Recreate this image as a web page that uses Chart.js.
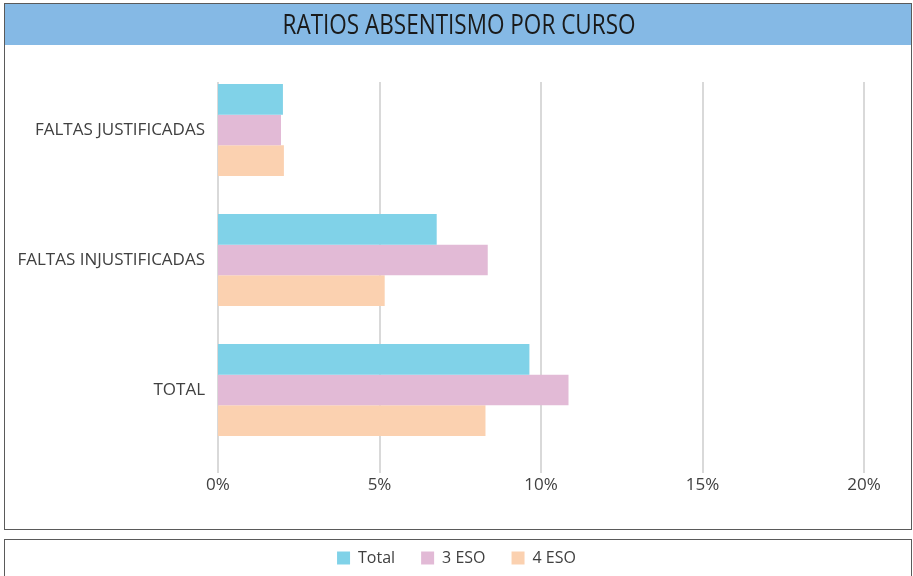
<!DOCTYPE html>
<html lang="es">
<head>
<meta charset="utf-8">
<title>Ratios absentismo por curso</title>
<script src="https://cdn.jsdelivr.net/npm/chart.js@4/dist/chart.umd.min.js"></script>
<style>
    html, body { margin: 0; padding: 0; background: #fff; }
    #contenedor { width: 913px; height: 576px; position: relative; }
</style>
</head>
<body>
<div id="contenedor"><canvas id="graficoAbsentismo"></canvas></div>
<script>
/* ============================================= */
/* DATOS DEL GRÁFICO                             */
/* ============================================= */

const titulo = 'RATIOS ABSENTISMO POR CURSO';
const categorias = ['FALTAS JUSTIFICADAS', 'FALTAS INJUSTIFICADAS', 'TOTAL'];
const valoresTotal = [2.01, 6.77, 9.64];
const valores3Eso = [1.95, 8.35, 10.85];
const valores4Eso = [2.04, 5.16, 8.28];
const ticksX = [0, 5, 10, 15, 20];

const colorTexto = '#404040';
const colorRejilla = '#d9d9d9';

// Marcos: barra azul del título, caja del gráfico y caja de la leyenda
const marcos = {
    id: 'marcos',
    beforeDraw(chart) {
        const ctx = chart.ctx;
        ctx.save();
        ctx.fillStyle = '#fff';
        ctx.fillRect(0, 0, chart.width, chart.height);
        ctx.fillStyle = '#85b9e5';
        ctx.fillRect(4, 3, 908, 42);
        ctx.strokeStyle = '#5a5a5a';
        ctx.lineWidth = 1;
        ctx.strokeRect(4.5, 3.5, 907, 526);
        ctx.strokeRect(4.5, 539.5, 907, 40);

        // El título original usa una letra estrecha: se comprime en horizontal
        ctx.font = "27px 'Open Sans'";
        ctx.fillStyle = '#1a1a1a';
        ctx.textAlign = 'center';
        ctx.textBaseline = 'middle';
        const ancho = ctx.measureText(titulo).width;
        ctx.translate(459, 26);
        ctx.scale(353 / ancho, 1);
        ctx.fillText(titulo, 0, 0);
        ctx.restore();
    }
};

// Rejilla vertical (va de 82 a 473, no ocupa toda la altura de las categorías)
const rejilla = {
    id: 'rejilla',
    beforeDatasetsDraw(chart) {
        const ctx = chart.ctx;
        const x = chart.scales.x;
        ctx.save();
        ctx.strokeStyle = colorRejilla;
        ctx.lineWidth = 2;
        ticksX.forEach(v => {
            const px = Math.round(x.getPixelForValue(v));
            ctx.beginPath();
            ctx.moveTo(px, 82);
            ctx.lineTo(px, 473);
            ctx.stroke();
        });
        ctx.restore();
    }
};

new Chart(document.getElementById('graficoAbsentismo'), {
    type: 'bar',
    data: {
        labels: categorias,
        datasets: [
            { label: 'Total', data: valoresTotal, backgroundColor: '#80d2e8' },
            { label: '3 ESO', data: valores3Eso, backgroundColor: '#e2bad6' },
            { label: '4 ESO', data: valores4Eso, backgroundColor: '#fbd1b0' }
        ]
    },
    options: {
        indexAxis: 'y',
        responsive: true,
        maintainAspectRatio: false,
        animation: false,
        events: [],
        datasets: { bar: { categoryPercentage: 0.707, barPercentage: 1.0, borderWidth: 0 } },
        layout: { padding: { left: 4, right: 4, top: 65, bottom: 0 } },
        scales: {
            x: {
                min: 0,
                max: 21.39, // el eje sigue en blanco más allá del 20%
                afterBuildTicks: scale => { scale.ticks = ticksX.map(v => ({ value: v })); },
                afterFit: scale => { scale.height = 69; },
                grid: { display: false, drawTicks: false },
                border: { display: false },
                ticks: {
                    padding: 20,
                    color: colorTexto,
                    font: { family: "'Open Sans'", size: 17 },
                    callback: v => v + '%'
                }
            },
            y: {
                afterFit: scale => { scale.width = 214; },
                grid: { display: false, drawTicks: false },
                border: { display: false },
                ticks: {
                    padding: 13,
                    color: colorTexto,
                    font: { family: "'Open Sans'", size: 17 }
                }
            }
        },
        plugins: {
            title: { display: false },
            legend: {
                position: 'bottom',
                maxHeight: 52,
                labels: {
                    boxWidth: 13,
                    boxHeight: 13,
                    padding: 26,
                    color: colorTexto,
                    font: { family: "'Open Sans'", size: 16 }
                }
            },
            tooltip: { enabled: false }
        }
    },
    plugins: [marcos, rejilla]
});
</script>
</body>
</html>
